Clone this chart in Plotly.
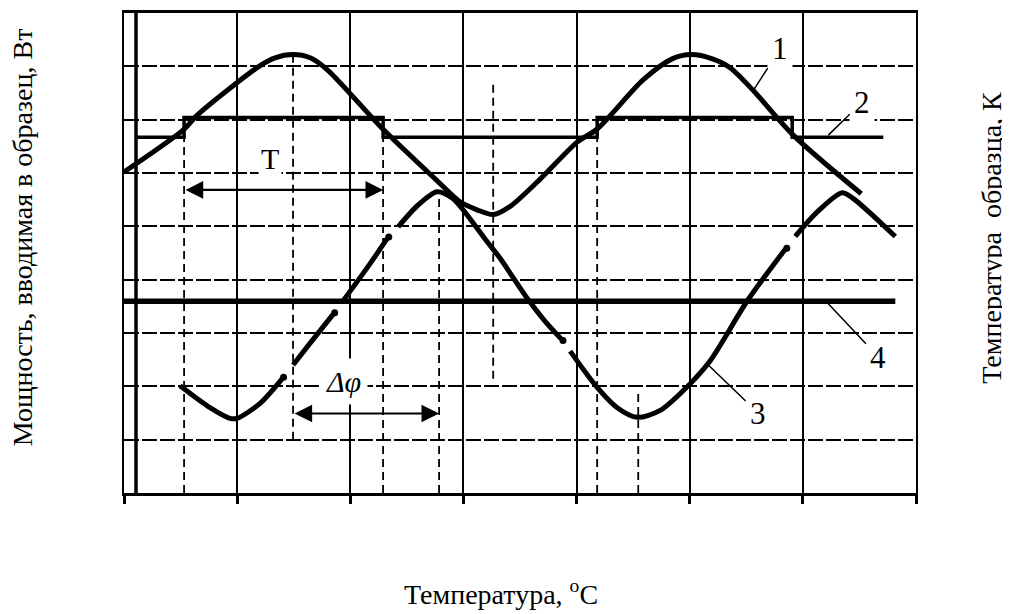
import plotly.graph_objects as go

# ---- data (in axis units: x 0..7, y 0..9) ----
c1_x = [0.0, 0.53, 0.645, 1.20, 1.335, 1.494, 1.645, 1.795, 2.29, 2.75, 2.97, 3.12, 3.263, 3.41, 3.68, 4.005, 4.18, 4.59, 4.845, 5.013, 5.20, 5.36, 5.56, 5.915, 6.516]
c1_y = [6.02, 6.82, 7.08, 8.01, 8.16, 8.22, 8.16, 7.94, 6.82, 5.89, 5.46, 5.31, 5.22, 5.37, 5.89, 6.58, 6.82, 7.75, 8.14, 8.22, 8.14, 7.97, 7.55, 6.71, 5.61]

c2_x = [0.106, 0.531, 0.531, 2.29, 2.29, 4.182, 4.182, 5.906, 5.906, 6.711]
c2_y = [6.67, 6.67, 7.04, 7.04, 6.67, 6.67, 7.04, 7.04, 6.67, 6.67]

c3_x = [0.495, 0.76, 0.937, 0.999, 1.202, 1.397, None,
        1.494, 1.645, 1.848, None,
        1.936, 2.175, 2.325, None,
        2.423, 2.599, 2.767, 2.90, 2.997, 3.21, 3.324, 3.563, 3.722, 3.864, None,
        3.943, 4.182, 4.359, 4.536, 4.739, 5.004, 5.181, 5.508, 5.844, None,
        5.933, 6.127, 6.348, 6.446, 6.817]
c3_y = [2.01, 1.60, 1.40, 1.40, 1.68, 2.14, None,
        2.40, 2.81, 3.35, None,
        3.60, 4.30, 4.77, None,
        4.99, 5.40, 5.65, 5.53, 5.31, 4.71, 4.40, 3.65, 3.22, 2.89, None,
        2.66, 1.98, 1.60, 1.42, 1.55, 2.05, 2.48, 3.60, 4.57, None,
        4.81, 5.27, 5.63, 5.52, 4.81]

# dots at the ends of the broken segments of curve 3
dot_x = [1.41, 1.862, 2.34, 3.88, 5.858]
dot_y = [2.17, 3.38, 4.80, 2.86, 4.59]

c4_x = [0.0, 6.817]
c4_y = [3.596, 3.596]

# vertical dashed guide lines: x position, bottom, top
guide_x = [0.531, 1.494, 2.29, 2.785, 3.263, 4.182, 4.545]
guide_y0 = [0.0, 1.0, 0.0, 0.0, 2.14, 0.0, 0.0]
guide_y1 = [6.67, 8.2, 6.67, 5.64, 7.73, 6.67, 1.86]

# period / phase arrows
T_arrow = dict(x0=0.531, x1=2.29, y=5.683)
phi_arrow = dict(x0=1.494, x1=2.785, y=1.491)

# curve labels: text, label x, label y, pointed x, pointed y
labels = [("1", 5.80, 8.33, 5.561, 7.546),
          ("2", 6.525, 7.33, 6.225, 6.71),
          ("3", 5.605, 1.50, 5.155, 2.42),
          ("4", 6.668, 2.55, 6.225, 3.55)]

FONT = "Liberation Serif"

fig = go.Figure()

gx, gy = [], []
for x, a, b in zip(guide_x, guide_y0, guide_y1):
    gx += [x, x, None]
    gy += [a, b, None]
fig.add_trace(go.Scatter(x=gx, y=gy, mode="lines",
                         line=dict(color="black", width=1.8, dash="8px,5px"),
                         hoverinfo="skip"))

fig.add_trace(go.Scatter(x=c4_x, y=c4_y, mode="lines",
                         line=dict(color="black", width=5.5)))
fig.add_trace(go.Scatter(x=c2_x, y=c2_y, mode="lines",
                         line=dict(color="black", width=3.5)))
fig.add_trace(go.Scatter(x=c1_x, y=c1_y, mode="lines",
                         line=dict(color="black", width=5, shape="spline", smoothing=0.8)))
fig.add_trace(go.Scatter(x=c3_x, y=c3_y, mode="lines", connectgaps=False,
                         line=dict(color="black", width=5, shape="spline", smoothing=0.8)))
fig.add_trace(go.Scatter(x=dot_x, y=dot_y, mode="markers",
                         marker=dict(color="black", size=7)))

ann = []
for arr in (T_arrow, phi_arrow):
    ann.append(dict(x=arr["x1"], y=arr["y"], ax=arr["x0"], ay=arr["y"],
                    xref="x", yref="y", axref="x", ayref="y", text="",
                    showarrow=True, arrowside="end+start", arrowhead=2,
                    arrowsize=1.6, arrowwidth=2.2, arrowcolor="black", standoff=0,
                    startstandoff=0))

ann.append(dict(x=1.291, y=6.28, xref="x", yref="y", text="T", showarrow=False,
                xanchor="center", yanchor="middle",
                font=dict(family=FONT, size=30, color="black"),
                bgcolor="white", borderpad=2))
ann.append(dict(x=1.936, y=2.10, xref="x", yref="y", text="<i>Δφ</i>", showarrow=False,
                xanchor="center", yanchor="middle",
                font=dict(family=FONT, size=30, color="black"),
                bgcolor="white", borderpad=6))

for t, lx, ly, px, py in labels:
    ann.append(dict(x=px, y=py, ax=lx, ay=ly, xref="x", yref="y", axref="x", ayref="y",
                    text=t, showarrow=True, arrowhead=0, arrowwidth=1.5,
                    arrowcolor="black", standoff=0,
                    font=dict(family=FONT, size=31, color="black"),
                    bgcolor="white", borderpad=4))

ann.append(dict(x=-0.128, y=0.532, xref="paper", yref="paper",
                xanchor="center", yanchor="middle",
                text="Мощность, вводимая в образец, Вт", textangle=-90,
                showarrow=False, font=dict(family=FONT, size=28, color="black")))
ann.append(dict(x=1.096, y=0.532, xref="paper", yref="paper",
                xanchor="center", yanchor="middle",
                text="Температура  образца, К", textangle=-90,
                showarrow=False, font=dict(family=FONT, size=28, color="black")))
ann.append(dict(x=0.476, y=-0.207, xref="paper", yref="paper",
                xanchor="center", yanchor="middle",
                text="Температура, <sup>o</sup>C",
                showarrow=False, font=dict(family=FONT, size=28, color="black")))

fig.update_layout(
    width=1002, height=606,
    margin=dict(l=116, r=94, t=2, b=121),
    paper_bgcolor="white", plot_bgcolor="white",
    showlegend=False,
    font=dict(family=FONT),
    annotations=ann,
    shapes=[dict(type="line", xref="x", xsizemode="pixel", xanchor=0, x0=12, x1=12,
                 yref="paper", y0=0, y1=1, line=dict(color="black", width=3.5))],
)
fig.update_xaxes(range=[0, 7], dtick=1, tick0=0, showgrid=True, gridcolor="black",
                 gridwidth=1.8, zeroline=False, showline=True, linecolor="black",
                 linewidth=2.5, mirror=True, ticks="outside", ticklen=8, tickwidth=2.5,
                 tickcolor="black", showticklabels=False)
fig.update_yaxes(range=[0, 9], dtick=1, tick0=0, showgrid=True, gridcolor="black",
                 gridwidth=1.5, griddash="15px,3px", zeroline=False, showline=True,
                 linecolor="black", linewidth=2, mirror=True, ticks="inside", ticklen=12,
                 tickwidth=2, tickcolor="black", showticklabels=False)

fig.write_html("out.html")
